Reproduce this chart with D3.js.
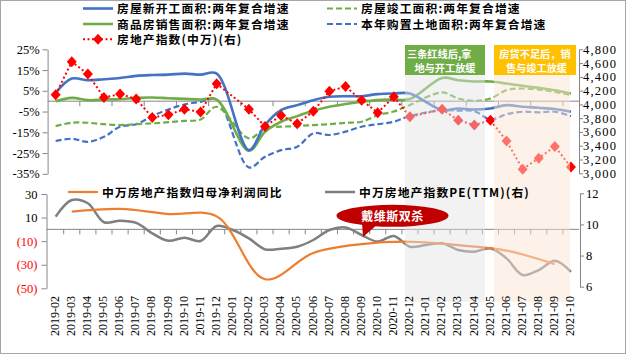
<!DOCTYPE html>
<html><head><meta charset="utf-8">
<script src="https://cdn.jsdelivr.net/npm/d3@7"></script>
<style>
html,body{margin:0;padding:0;background:#fff;}
svg{display:block;}
.num{font-family:"Liberation Serif","Times New Roman",serif;}
.cjk{font-family:"Noto Sans CJK SC","Noto Sans",sans-serif;font-weight:700;}
</style></head><body>
<svg id="c" width="628" height="356"></svg>
<script>
const months = ["2019-02","2019-03","2019-04","2019-05","2019-06","2019-07","2019-08","2019-09","2019-10","2019-11","2019-12",
"2020-01","2020-02","2020-03","2020-04","2020-05","2020-06","2020-07","2020-08","2020-09","2020-10","2020-11","2020-12",
"2021-01","2021-02","2021-03","2021-04","2021-05","2021-06","2021-07","2021-08","2021-09","2021-10"];
// top panel, left axis (%)
const newStartGrowth = [4,10.9,10.1,10.6,11.2,12.2,12.6,12.8,13.3,12.8,13.3,null,-23.6,-11.5,-4.3,-1.9,0.5,2.1,2.4,2.4,3.4,3.7,3.7,null,-4.3,-3.5,-4.0,-3.5,-1.9,-2.7,-3.2,-3.8,-5.1];
const salesGrowth = [0,1.6,0.5,0.8,1.0,1.6,1.8,1.4,1.1,0.8,0.8,null,-23.9,-14.7,-9.9,-7.2,-4.6,-2.7,-1.4,-0.3,0.5,0.8,1.0,null,11.2,10.1,9.5,9.5,8.5,7.4,6.4,5.3,3.7];
const completionGrowth = [-12,-10.4,-10.4,-11.1,-11.5,-11.1,-10.7,-10.1,-9.5,-8.8,-2.7,null,-17.9,-13.1,-12.3,-12,-11.5,-11.1,-10.4,-9.9,-6.8,-5,-1.8,null,4.2,1.3,0.2,1.3,5.3,6.1,5.6,4.5,2.9];
const landGrowth = [-19.2,-18.1,-19.6,-17.2,-12.3,-11.1,-7.2,-4.0,-1.6,-0.3,0.8,null,-31.9,-26.8,-23.6,-22,-15.5,-16.3,-14.7,-12.3,-11.1,-9.9,-7.2,null,-4.3,-4.6,-4.8,-8.8,-6.3,-5.1,-5.4,-5.1,-7.2];
// top panel, right axis (index points)
const propertyIndex = [4140,4620,4440,4100,4150,4080,3810,3850,3930,3890,4300,null,3930,3680,3840,3720,3900,4190,4260,4060,3880,4110,3820,null,3930,3770,3700,3770,3470,3060,3220,3390,3090];
// bottom panel, left axis (%), quarterly
const profitYoY = [null,15,null,null,17.3,null,null,13,null,null,11,null,null,-42.3,null,null,-20,null,null,-12.5,null,null,-10.5,null,null,-13.4,null,null,-18,null,null,-29.5,null];
// bottom panel, right axis
const peTTM = [10.5,11.57,11.36,10.14,10.24,10.1,9.43,8.95,9.15,8.94,9.9,9.64,9.1,8.4,8.44,8.57,9.0,9.64,9.8,9.32,8.9,9.26,8.57,8.68,8.79,8.36,8.25,8.47,7.82,6.75,7.07,7.67,6.96];

const leftTicksTop = [25,15,5,-5,-15,-25,-35];
const rightTicksTop = [4800,4600,4400,4200,4000,3800,3600,3400,3200,3000];
const leftTicksBottom = [30,10,-10,-30,-50];
const leftTickLabelsBottom = ["30","10","(10)","(30)","(50)"];
const rightTicksBottom = [12,10,8,6];

const seriesNames = ["房屋新开工面积:两年复合增速","房屋竣工面积:两年复合增速","商品房销售面积:两年复合增速","本年购置土地面积:两年复合增速","房地产指数(中万)(右)","中万房地产指数归母净利润同比","中万房地产指数PE(TTM)(右)"];
const regionNotes = [["三条红线后,拿","地与开工放缓"],["房贷不足后，销","售与竣工放缓"]];
const calloutText = "戴维斯双杀";

const BLUE="#4472c4", GREEN="#70ad47", RED="#ff0000", ORANGE="#ed7d31", GREY="#7f7f7f", AX="#868686";

const svg = d3.select("#c");
svg.append("rect").attr("x",0.5).attr("y",0.5).attr("width",625).attr("height",353).attr("fill","#fff").attr("stroke","#a6a6a6");

const x = d3.scaleBand().domain(months).range([47.6,579]).padding(0);
const cx = m => x(m) + x.bandwidth()/2;
const yL = d3.scaleLinear().domain([-35,25]).range([173.8,49.3]);
const yR = d3.scaleLinear().domain([3000,4800]).range([173.3,49.3]);
const yL2 = d3.scaleLinear().domain([-50,30]).range([288.3,194]);
const yR2 = d3.scaleLinear().domain([6,12]).range([286.7,193.3]);

function styleAxis(g){
  g.select(".domain").attr("stroke",AX);
  g.selectAll(".tick line").attr("stroke",AX);
  g.selectAll("text").attr("class","num").attr("fill","#000");
}
// axes
svg.append("g").attr("transform","translate(47.6,0)")
  .call(d3.axisLeft(yL).tickValues(leftTicksTop).tickFormat(d=>d+"%").tickSize(5).tickSizeOuter(0).tickPadding(3))
  .call(styleAxis).call(g=>g.selectAll("text").style("font-size","12.5px"));
svg.append("g").attr("transform","translate(579,0)")
  .call(d3.axisRight(yR).tickValues(rightTicksTop).tickFormat(d3.format(",")).tickSize(4).tickSizeOuter(0).tickPadding(0))
  .call(styleAxis).call(g=>g.selectAll("text").style("font-size","12.5px").style("letter-spacing","1.2px"));
svg.append("g").attr("transform","translate(46.5,0)")
  .call(d3.axisLeft(yL2).tickValues(leftTicksBottom).tickFormat((d,i)=>leftTickLabelsBottom[i]).tickSize(5).tickSizeOuter(0).tickPadding(4))
  .call(styleAxis).call(g=>g.selectAll("text").style("font-size","12.5px").attr("fill",d=>d<0?RED:"#000"));
svg.append("g").attr("transform","translate(580,0)")
  .call(d3.axisRight(yR2).tickValues(rightTicksBottom).tickFormat(d3.format("d")).tickSize(4).tickSizeOuter(0).tickPadding(2))
  .call(styleAxis).call(g=>g.selectAll("text").style("font-size","12.5px"));

// zero lines with category ticks
svg.append("line").attr("x1",47.6).attr("x2",579).attr("y1",yL(0)).attr("y2",yL(0)).attr("stroke",AX);
svg.append("g").selectAll("line").data(months.filter((m,i)=>i>0 && i%2===0)).join("line")
  .attr("x1",d=>x(d)).attr("x2",d=>x(d)).attr("y1",yL(0)).attr("y2",yL(0)+5).attr("stroke",AX);
svg.append("line").attr("x1",46.5).attr("x2",579).attr("y1",yL2(0)).attr("y2",yL2(0)).attr("stroke",AX);
svg.append("g").selectAll("line").data(months.filter((m,i)=>i>0)).join("line")
  .attr("x1",d=>x(d)).attr("x2",d=>x(d)).attr("y1",yL2(0)).attr("y2",yL2(0)+5).attr("stroke",AX);

// series
const pts = arr => months.map((m,i)=>({m,v:arr[i]})).filter(d=>d.v!==null);
const smooth = y => d3.line().x(d=>cx(d.m)).y(d=>y(d.v)).curve(d3.curveCatmullRom.alpha(0.5));
function draw(arr,y,color,w,dash,gen){
  svg.append("path").attr("d",(gen||smooth(y))(pts(arr))).attr("fill","none").attr("stroke",color)
    .attr("stroke-width",w).attr("stroke-dasharray",dash||null).attr("stroke-linejoin","round");
}
draw(landGrowth,yL,BLUE,2.2,"6,3");
draw(completionGrowth,yL,GREEN,2.2,"6,3");
draw(salesGrowth,yL,GREEN,2.6);
draw(newStartGrowth,yL,BLUE,2.6);
draw(propertyIndex,yR,RED,2,"2,2.5",d3.line().x(d=>cx(d.m)).y(d=>yR(d.v)));
const diamond = "M0,-5.5L5,0L0,5.5L-5,0Z";
svg.append("g").selectAll("path").data(pts(propertyIndex)).join("path")
  .attr("d",diamond).attr("transform",d=>`translate(${cx(d.m)},${yR(d.v)})`).attr("fill",RED);
draw(peTTM,yR2,GREY,2.5);
draw(profitYoY,yL2,ORANGE,2.2);

// shaded periods (overlay)
const r1 = [405,485], r2=[494,570];
svg.append("rect").attr("x",r1[0]).attr("y",45).attr("width",r1[1]-r1[0]).attr("height",257).attr("fill","#e2e2e2").attr("opacity",0.45);
svg.append("rect").attr("x",r2[0]).attr("y",45).attr("width",r2[1]-r2[0]).attr("height",257).attr("fill","#fbe5d3").attr("opacity",0.5);

// region notes
const defs = svg.append("defs");
defs.append("clipPath").attr("id","cg").append("rect").attr("x",405).attr("y",45).attr("width",80).attr("height",30);
svg.append("rect").attr("x",405).attr("y",45).attr("width",80).attr("height",30).attr("fill",GREEN);
svg.append("rect").attr("x",494).attr("y",45).attr("width",82).attr("height",30).attr("fill","#ffc000");
const note = (sel,x0,y0,anchor,size,txt) => sel.append("text").attr("class","cjk").attr("fill","#fff")
  .attr("x",x0).attr("y",y0).attr("text-anchor",anchor).style("font-size",size).text(txt);
const cg = svg.append("g").attr("clip-path","url(#cg)");
note(cg,407,57.5,"start","10.2px",regionNotes[0][0]);
note(svg,445,72,"middle","10.2px",regionNotes[0][1]);
note(svg,535,57.5,"middle","10.2px",regionNotes[1][0]);
note(svg,536.5,72,"middle","10.2px",regionNotes[1][1]);

// x labels
svg.append("g").selectAll("text").data(months).join("text").attr("class","num")
  .attr("transform",d=>`translate(${cx(d)-1},296) rotate(-90)`).attr("text-anchor","end").attr("dy","0.35em")
  .style("font-size","12px").text(d=>d);

// legends
function legend(x0,y,name,color,dash,w,marker){
  svg.append("line").attr("x1",x0).attr("x2",x0+30).attr("y1",y).attr("y2",y).attr("stroke",color).attr("stroke-width",w).attr("stroke-dasharray",dash||null);
  if(marker) svg.append("path").attr("d",diamond).attr("transform",`translate(${x0+15},${y})`).attr("fill",color);
  svg.append("text").attr("class","cjk").attr("x",x0+34).attr("y",y+4.5).style("font-size","11.8px").style("letter-spacing","1.1px").attr("fill","#000").text(name);
}
legend(83,8.5,seriesNames[0],BLUE,null,2.6);
legend(327,8.5,seriesNames[1],GREEN,"6,3",2.2);
legend(83,24,seriesNames[2],GREEN,null,2.6);
legend(327,24,seriesNames[3],BLUE,"6,3",2.2);
legend(83,39.3,seriesNames[4],RED,"2,2.5",2,true);
legend(68,192,seriesNames[5],ORANGE,null,2.2);
legend(325,192,seriesNames[6],GREY,null,2.5);

// callout
svg.append("path").attr("d","M362,223L378,224L363,237Z").attr("fill","#c00000");
svg.append("ellipse").attr("cx",392.5).attr("cy",215.8).attr("rx",56).attr("ry",11).attr("fill","#c00000");
svg.append("text").attr("class","cjk").attr("x",392.5).attr("y",220.5).attr("text-anchor","middle").attr("fill","#fff").style("font-size","12px").style("letter-spacing","0.5px").text(calloutText);
</script></body></html>
